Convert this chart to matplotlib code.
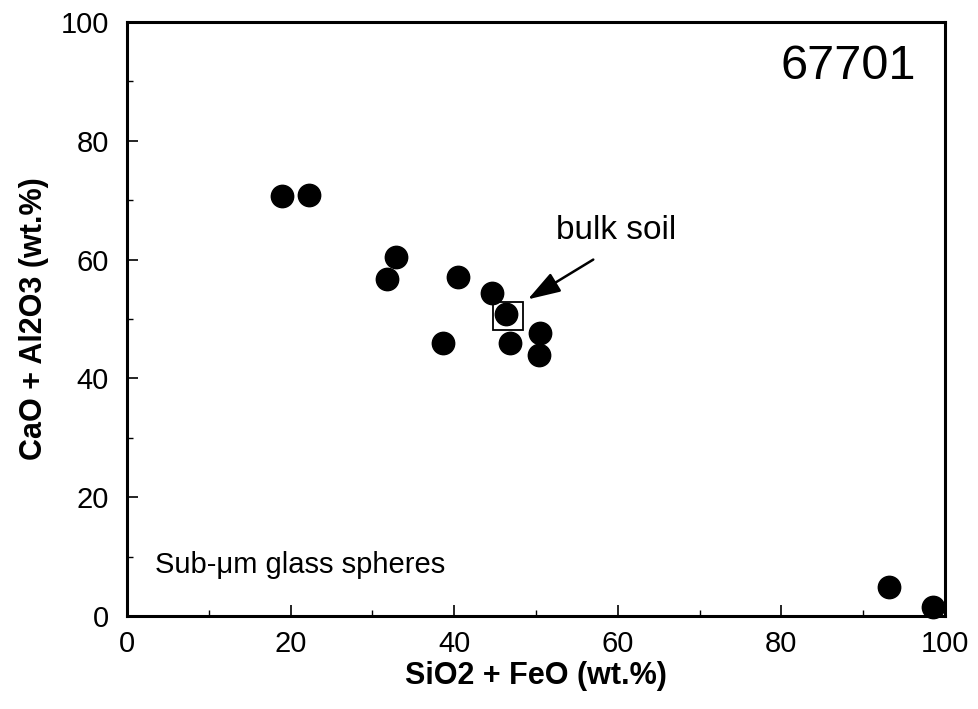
import matplotlib
matplotlib.use("Agg")
import matplotlib.pyplot as plt
from matplotlib.ticker import MultipleLocator
from matplotlib.patches import Rectangle

plt.rcParams['font.family'] = ['Liberation Sans', 'DejaVu Sans']

# Sub-micron glass spheres, sample 67701
sio2_feo = [18.9, 22.2, 32.9, 31.8, 40.5, 38.6, 44.6, 46.3, 46.8, 50.5, 50.4, 93.2, 98.5]
cao_al2o3 = [70.7, 70.9, 60.4, 56.7, 57.1, 46.0, 54.4, 50.8, 46.0, 47.6, 43.9, 4.9, 1.5]

# bulk soil composition
bulk_x = 46.6
bulk_y = 50.5

fig = plt.figure(figsize=(9.79, 7.09), dpi=100)
ax = fig.add_axes([0.1297, 0.1312, 0.8356, 0.8378])

ax.scatter(sio2_feo, cao_al2o3, s=260, color='black', zorder=3, clip_on=False)

# open square for bulk soil
ax.add_patch(Rectangle((bulk_x - 1.8, bulk_y - 2.4), 3.6, 4.8,
                       fill=False, edgecolor='black', linewidth=1.3, zorder=2))

ax.annotate('', xy=(49.0, 53.3), xytext=(57.0, 60.0),
            arrowprops=dict(arrowstyle='-|>,head_length=2.0,head_width=0.65',
                            color='black', lw=1.8, shrinkA=0, shrinkB=0))
ax.text(52.5, 62.3, 'bulk soil', fontsize=24, ha='left', va='bottom')

ax.text(0.965, 0.925, '67701', transform=ax.transAxes, fontsize=35,
        ha='right', va='center')
ax.text(3.4, 7.2, 'Sub-\u03bcm glass spheres', fontsize=21, ha='left', va='baseline')

ax.set_xlim(0, 100)
ax.set_ylim(0, 100)
ax.xaxis.set_major_locator(MultipleLocator(20))
ax.yaxis.set_major_locator(MultipleLocator(20))
ax.xaxis.set_minor_locator(MultipleLocator(10))
ax.yaxis.set_minor_locator(MultipleLocator(10))
ax.tick_params(which='major', direction='in', length=8, width=1.2, labelsize=21, pad=10)
ax.tick_params(which='minor', direction='in', length=4, width=1.0)
ax.tick_params(axis='y', pad=13)

for sp in ax.spines.values():
    sp.set_linewidth(2.2)

ax.set_xlabel('SiO2 + FeO (wt.%)', fontsize=22, fontweight='bold', labelpad=2)
ax.set_ylabel('CaO + Al2O3 (wt.%)', fontsize=22, fontweight='bold', labelpad=8)

fig.savefig('out.png', dpi=100)
